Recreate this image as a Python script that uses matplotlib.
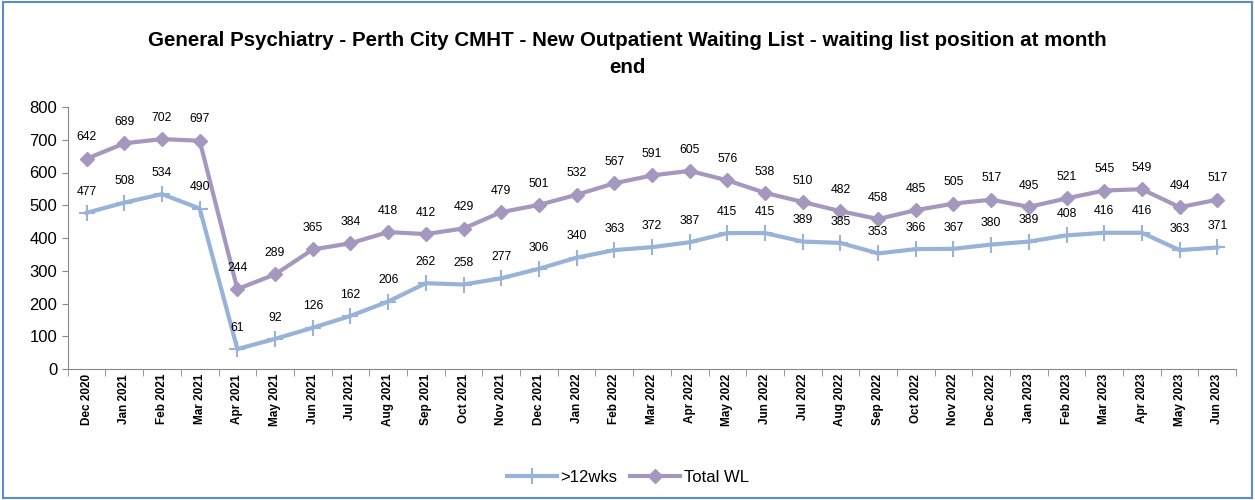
import matplotlib.pyplot as plt
from matplotlib.patches import Rectangle

months = ["Dec 2020", "Jan 2021", "Feb 2021", "Mar 2021", "Apr 2021", "May 2021", "Jun 2021",
          "Jul 2021", "Aug 2021", "Sep 2021", "Oct 2021", "Nov 2021", "Dec 2021", "Jan 2022",
          "Feb 2022", "Mar 2022", "Apr 2022", "May 2022", "Jun 2022", "Jul 2022", "Aug 2022",
          "Sep 2022", "Oct 2022", "Nov 2022", "Dec 2022", "Jan 2023", "Feb 2023", "Mar 2023",
          "Apr 2023", "May 2023", "Jun 2023"]
over_12wks = [477, 508, 534, 490, 61, 92, 126, 162, 206, 262, 258, 277, 306, 340, 363, 372,
              387, 415, 415, 389, 385, 353, 366, 367, 380, 389, 408, 416, 416, 363, 371]
total_wl = [642, 689, 702, 697, 244, 289, 365, 384, 418, 412, 429, 479, 501, 532, 567, 591,
            605, 576, 538, 510, 482, 458, 485, 505, 517, 495, 521, 545, 549, 494, 517]

plt.rcParams['font.family'] = ['Liberation Sans', 'DejaVu Sans']

fig = plt.figure(figsize=(12.55, 5), dpi=100)
ax = fig.add_axes([0.054, 0.262, 0.931, 0.524])

x = list(range(len(months)))
blue = '#98B2D8'
purple = '#A597BE'
ax.plot(x, over_12wks, color=blue, lw=3, marker='+', ms=11, mew=1.5, label='>12wks')
ax.plot(x, total_wl, color=purple, lw=3, marker='D', ms=7, label='Total WL')

# data labels above each point
for i in x:
    ax.annotate(str(over_12wks[i]), (i, over_12wks[i]), xytext=(0, 11), textcoords='offset points',
                ha='center', va='bottom', fontsize=8.8)
    ax.annotate(str(total_wl[i]), (i, total_wl[i]), xytext=(0, 11), textcoords='offset points',
                ha='center', va='bottom', fontsize=8.8)

ax.set_xlim(-0.5, len(months) - 0.5)
ax.set_ylim(0, 800)
ax.set_yticks(range(0, 801, 100))
ax.set_xticks(x)
ax.set_xticklabels(months, rotation=90, fontsize=8.5, fontweight='bold')
ax.tick_params(axis='y', labelsize=12, length=4, color='#888888')
ax.set_xticks([i - 0.5 for i in range(len(months) + 1)], minor=True)
ax.tick_params(axis='x', which='major', length=0)
ax.tick_params(axis='x', which='minor', length=5, color='#888888')
for side in ['top', 'right']:
    ax.spines[side].set_visible(False)
ax.spines['left'].set_color('#888888')
ax.spines['bottom'].set_color('#888888')

fig.text(0.5, 0.892, "General Psychiatry - Perth City CMHT - New Outpatient Waiting List - waiting list position at month\nend",
         ha='center', va='center', fontsize=14.8, fontweight='bold', linespacing=1.55)

fig.legend(loc='center', bbox_to_anchor=(0.5, 0.045), ncol=2, frameon=False, fontsize=12,
           handlelength=3, columnspacing=0.8, handletextpad=0.2)

fig.patches.append(Rectangle((0.002, 0.004), 0.996, 0.992, transform=fig.transFigure,
                             fill=False, edgecolor='#5B8BC9', lw=1.5))

fig.savefig('out.png', dpi=100)
